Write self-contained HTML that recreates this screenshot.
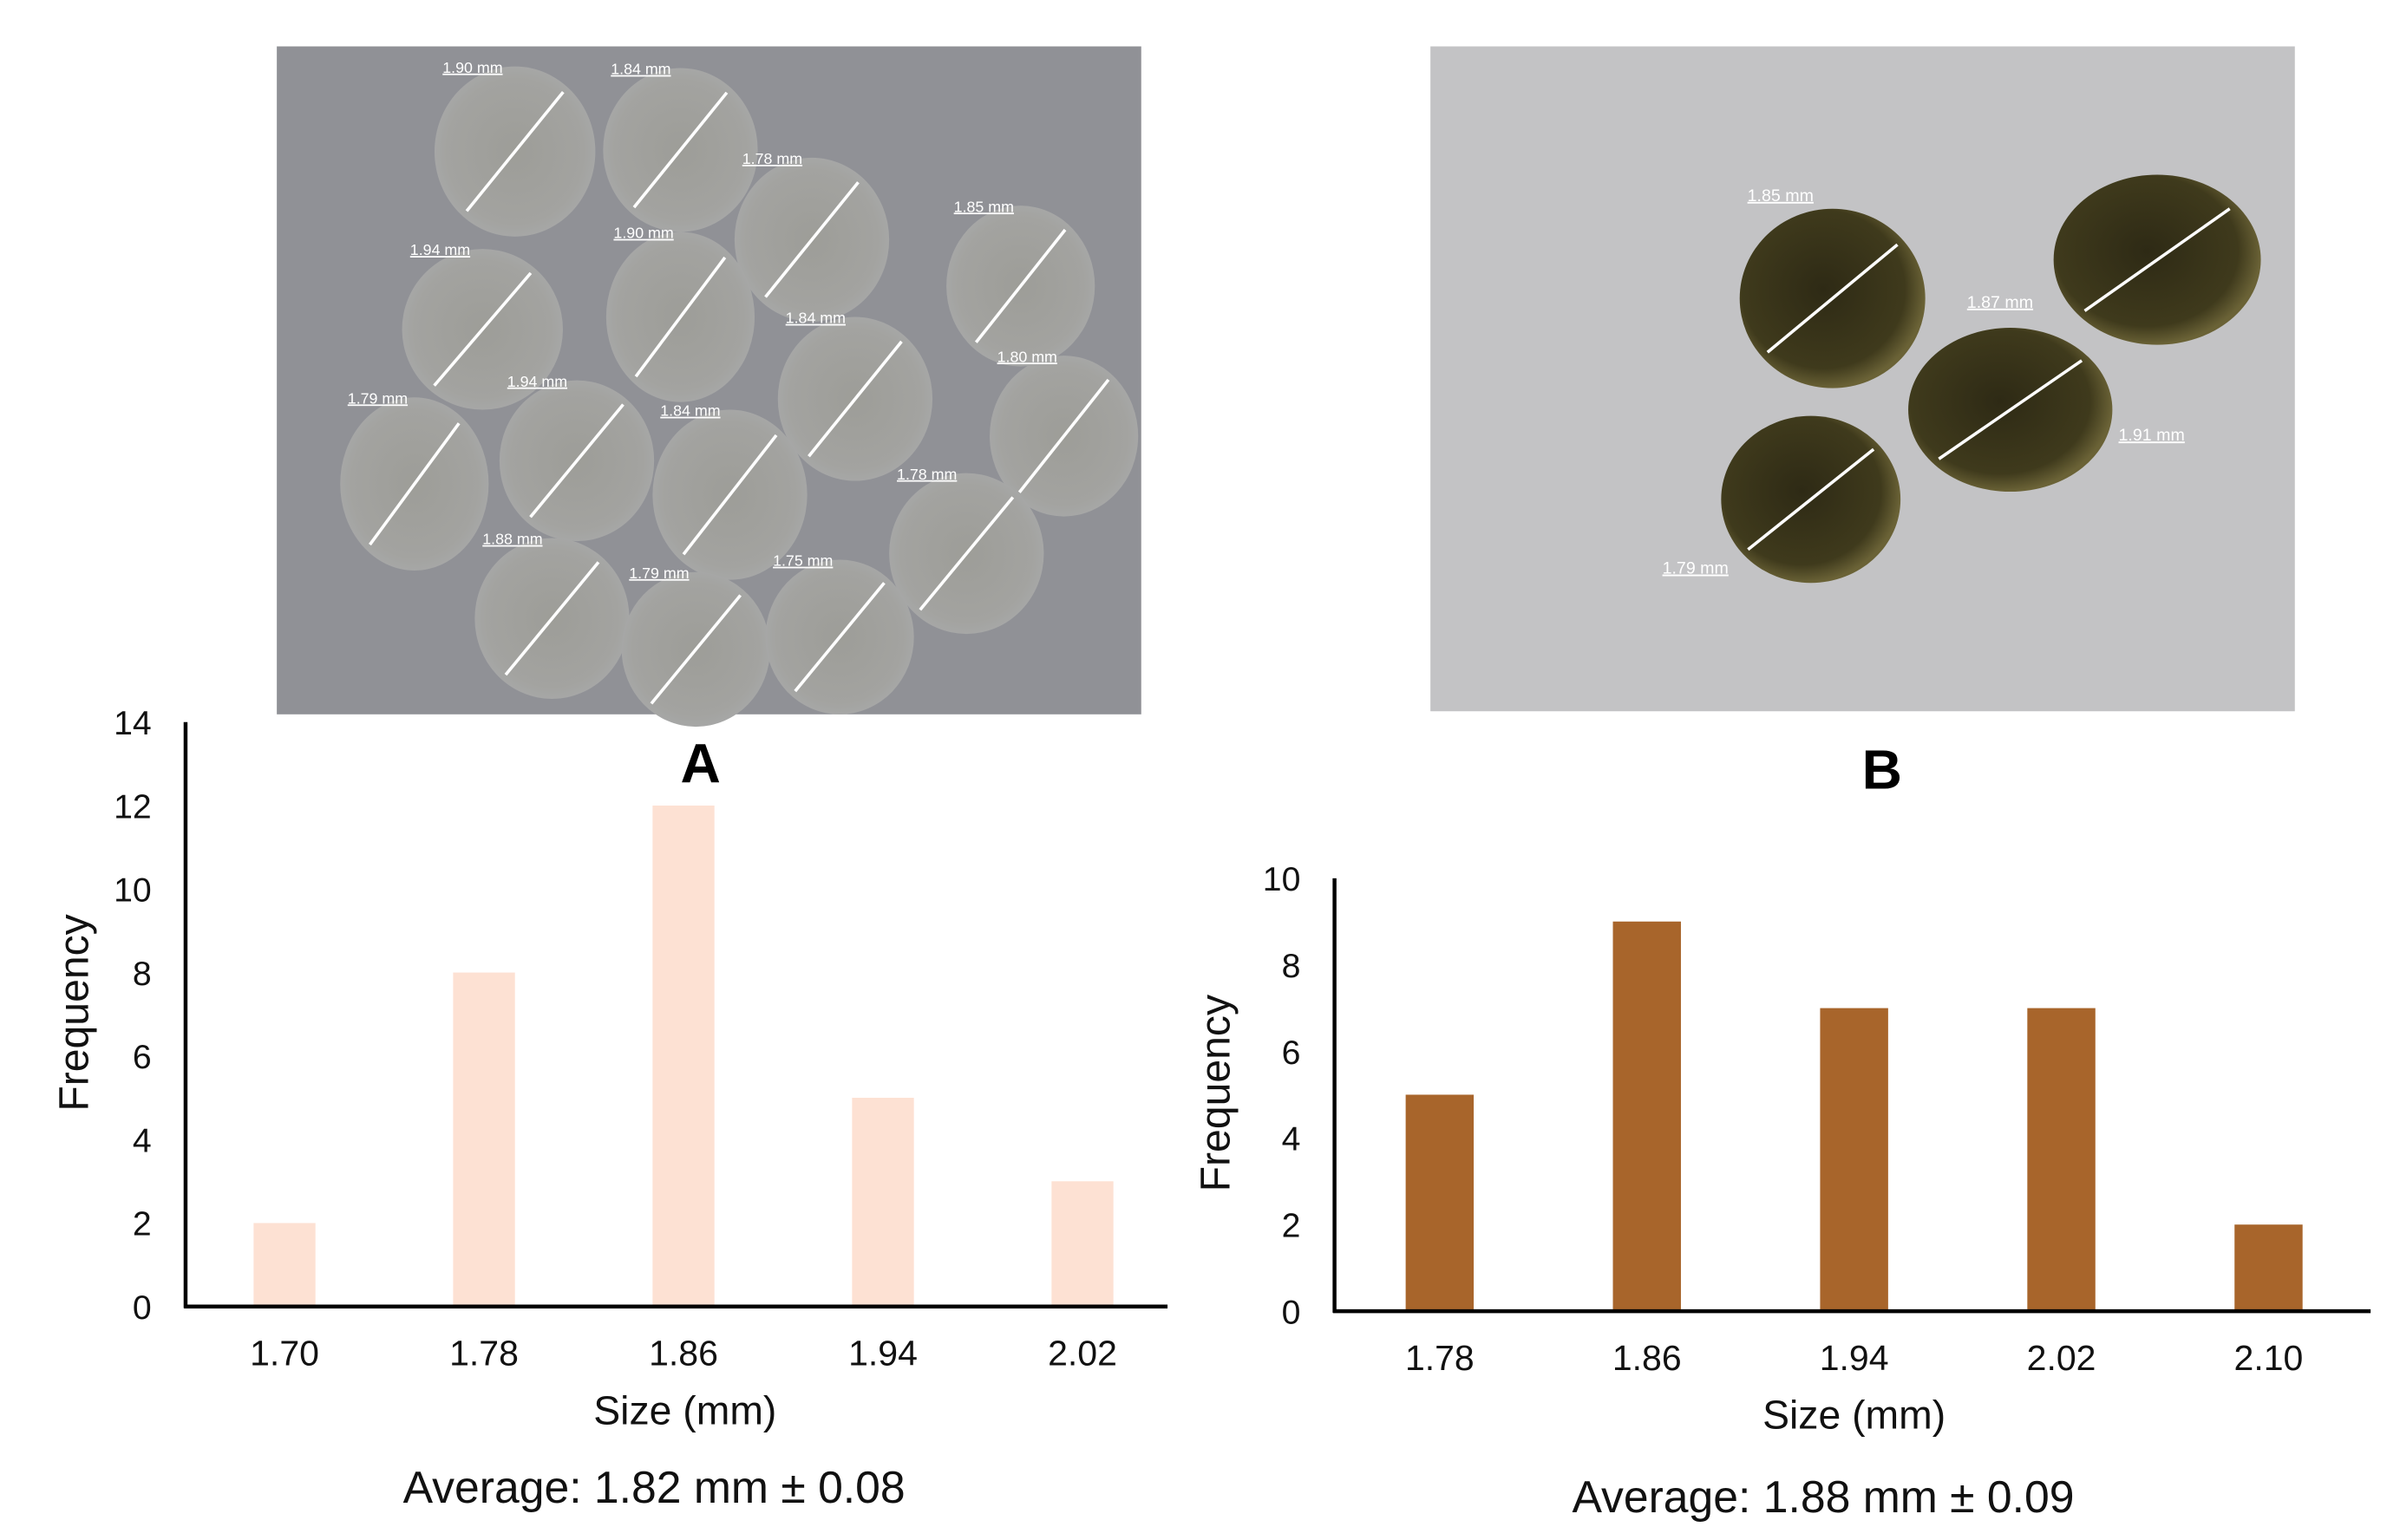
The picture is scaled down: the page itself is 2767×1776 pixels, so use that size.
<!DOCTYPE html>
<html><head><meta charset="utf-8"><style>
html,body{margin:0;padding:0;background:#fff;}
svg{display:block;font-family:"Liberation Sans",sans-serif;}
</style></head><body>
<svg id="fig" width="2767" height="1776" viewBox="0 0 1552 996" preserveAspectRatio="none" xmlns="http://www.w3.org/2000/svg">
<defs>
<radialGradient id="gA" cx="50%" cy="50%" r="50%"><stop offset="0" stop-color="#9d9d98"/><stop offset="0.85" stop-color="#a3a3a0"/><stop offset="1" stop-color="#a6a7a6"/></radialGradient>
<radialGradient id="gB" cx="45%" cy="45%" r="55%"><stop offset="0" stop-color="#2e2a15"/><stop offset="0.8" stop-color="#3f3a1c"/><stop offset="1" stop-color="#6a6236"/></radialGradient>
</defs>
<g>
<rect x="179" y="30" width="559" height="432" fill="#909196"/>
<g id="circA"></g>
</g>
<g>
<rect x="925" y="30" width="559" height="430" fill="#c3c3c5"/>
<g id="circB"></g>
</g>
<text x="453" y="506" font-size="36" font-weight="bold" text-anchor="middle">A</text>
<text x="1217" y="510" font-size="36" font-weight="bold" text-anchor="middle">B</text>
<g id="chartA"></g>
<g id="chartB"></g>
</svg>
<script>
const catsA = ["1.70","1.78","1.86","1.94","2.02"];
const valsA = [2, 8, 12, 5, 3];
const ticksA = [0,2,4,6,8,10,12,14];
const catsB = ["1.78","1.86","1.94","2.02","2.10"];
const valsB = [5, 9, 7, 7, 2];
const ticksB = [0,2,4,6,8,10];

const NS="http://www.w3.org/2000/svg";
function mk(tag, attrs, parent, txt){const e=document.createElementNS(NS,tag);for(const k in attrs)e.setAttribute(k,attrs[k]);if(txt!==undefined)e.textContent=txt;parent.appendChild(e);return e;}

function chart(g, cats, vals, ticks, cfg){
  const yScale=v=>cfg.base-(v/ticks[ticks.length-1])*(cfg.base-cfg.top);
  const xScale=i=>cfg.x0+cfg.first+i*cfg.step;
  vals.forEach((v,i)=>{
    const r=mk('rect',{x:xScale(i)-cfg.bw/2,y:yScale(v),width:cfg.bw,height:cfg.base-yScale(v),fill:cfg.color},g);
    
    
  });
  const ya=mk('line',{x1:cfg.x0,y1:cfg.top,x2:cfg.x0,y2:cfg.base+1,stroke:'#000','stroke-width':2.5},g);
  
  
  const xa=mk('line',{x1:cfg.x0-1,y1:cfg.base,x2:cfg.x1,y2:cfg.base,stroke:'#000','stroke-width':2.5},g);
  
  
  ticks.forEach(t=>{
    const e=mk('text',{x:cfg.x0-22,y:yScale(t)+8,'font-size':22,'text-anchor':'end',fill:'#111'},g,String(t));
    
    
  });
  cats.forEach((c,i)=>{
    const e=mk('text',{x:xScale(i),y:cfg.base+38,'font-size':23,'text-anchor':'middle',fill:'#111'},g,c);
    
    
  });
  const xt=mk('text',{x:cfg.xtX,y:cfg.base+76,'font-size':26,'text-anchor':'middle',fill:'#111'},g,'Size (mm)');
  
  
  const yt=mk('text',{x:0,y:0,'font-size':27,'text-anchor':'middle',fill:'#111',transform:`translate(${cfg.ytX},${cfg.ytY}) rotate(-90)`},g,'Frequency');
  
  
  const av=mk('text',{x:cfg.xtX-20,y:cfg.avY,'font-size':29,'text-anchor':'middle',fill:'#111'},g,cfg.avg);
  
  
}
chart(document.getElementById('chartA'),catsA,valsA,ticksA,{x0:120,x1:755,top:467,base:845,first:64,step:129,bw:40,color:'#fde1d3',xtX:443,ytX:57,ytY:655,avY:972,avg:'Average: 1.82 mm ± 0.08'});
chart(document.getElementById('chartB'),catsB,valsB,ticksB,{x0:863,x1:1533,top:568,base:848,first:68,step:134,bw:44,color:'#a8652b',xtX:1199,ytX:795,ytY:707,avY:978,avg:'Average: 1.88 mm ± 0.09'});

// photo decorations
const cA=document.getElementById('circA');
[[333,98,52,55,'1.90 mm'],[440,97,50,53,'1.84 mm'],[525,155,50,53,'1.78 mm'],[660,185,48,52,'1.85 mm'],[312,213,52,52,'1.94 mm'],[440,205,48,55,'1.90 mm'],[553,258,50,53,'1.84 mm'],[688,282,48,52,'1.80 mm'],[268,313,48,56,'1.79 mm'],[373,298,50,52,'1.94 mm'],[472,320,50,55,'1.84 mm'],[625,358,50,52,'1.78 mm'],[357,400,50,52,'1.88 mm'],[450,420,48,50,'1.79 mm'],[543,412,48,50,'1.75 mm']].forEach(c=>{
  const e=mk('ellipse',{cx:c[0],cy:c[1],rx:c[2],ry:c[3],fill:'url(#gA)'},cA);
  
  
  mk('line',{x1:c[0]-c[2]*0.6,y1:c[1]+c[3]*0.7,x2:c[0]+c[2]*0.6,y2:c[1]-c[3]*0.7,stroke:'#fff','stroke-width':2},cA);
  const t=mk('text',{x:c[0]-c[2]*0.9,y:c[1]-c[3]+4,'font-size':10,fill:'#fff','text-decoration':'underline'},cA,c[4]);
  
  
});
const cB=document.getElementById('circB');
[[1185,193,60,58,'1.85 mm',1130,130],[1395,168,67,55,'1.87 mm',1272,199],[1300,265,66,53,'1.91 mm',1370,285],[1171,323,58,54,'1.79 mm',1075,371]].forEach(c=>{
  const e=mk('ellipse',{cx:c[0],cy:c[1],rx:c[2],ry:c[3],fill:'url(#gB)'},cB);
  
  
  mk('line',{x1:c[0]-c[2]*0.7,y1:c[1]+c[3]*0.6,x2:c[0]+c[2]*0.7,y2:c[1]-c[3]*0.6,stroke:'#fff','stroke-width':2},cB);
  const t=mk('text',{x:c[5],y:c[6],'font-size':11,fill:'#fff','text-decoration':'underline'},cB,c[4]);
  
  
});
</script>
</body></html>
